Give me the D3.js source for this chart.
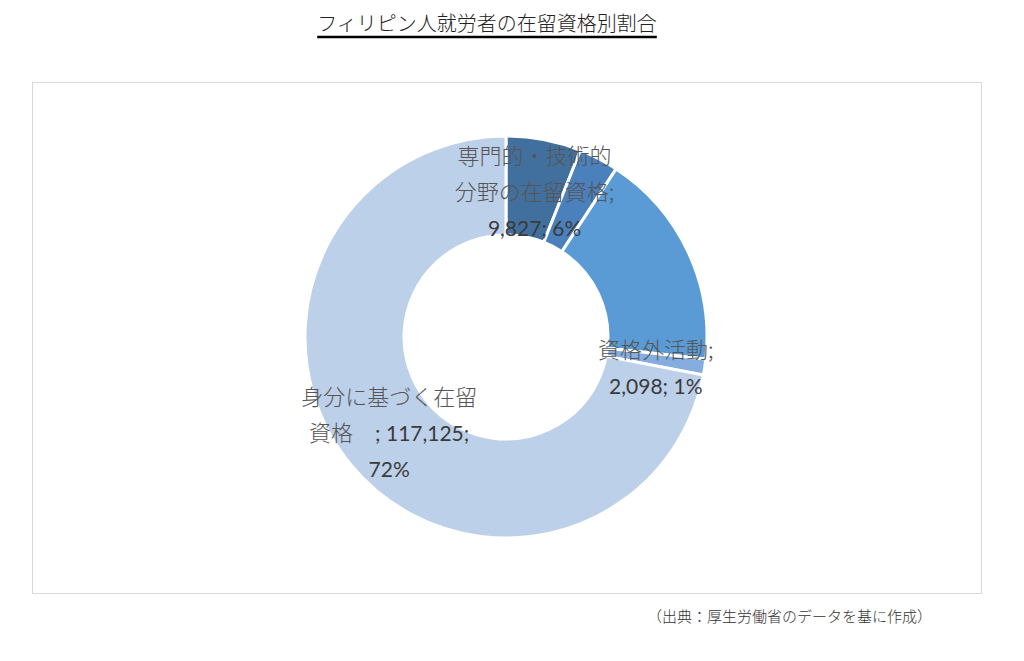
<!DOCTYPE html>
<html>
<head>
    <meta charset="utf-8">
    <title>フィリピン人就労者の在留資格別割合</title>
    <script src="https://d3js.org/d3.v7.min.js"></script>
    <style>
        body { margin: 0; background: #fff; }
        svg { display: block; }
    </style>
</head>
<body>
<div id="chart"></div>
<script type="text/javascript">
    // data (two middle slices have no labels)
    const categories = ['専門的・技術的分野の在留資格', '特定活動', '技能実習', '資格外活動', '身分に基づく在留資格'];
    const values = [9827, 5200, 28500, 2098, 117125];
    const percents = ['6%', '3%', '17%', '1%', '72%'];
    const colors = ['#42709e', '#4a80bb', '#5b9bd5', '#86ade0', '#bdd0ea'];
    // label lines: [jp text, number text]
    const labelLines = [
        [['専門的・技術的', ''], ['分野の在留資格;', ''], ['', '9,827; 6%']],
        null,
        null,
        [['資格外活動;', ''], ['', '2,098; 1%']],
        [['身分に基づく在留', ''], ['資格　', '; 117,125;'], ['', '72%']]
    ];

    const width = 1024;
    const height = 661;
    const cx = 506, cy = 337;
    const outerR = 201, innerR = 102;
    const labelShift = [4, 0, 0, 8, 0]; // small nudge of label blocks, px

    const svg = d3.select('#chart').append('svg')
        .attr('width', width).attr('height', height);

    // title
    const title = svg.append('text')
        .attr('x', 487).attr('y', 31)
        .attr('text-anchor', 'middle')
        .style('font-family', '"Noto Sans CJK JP"')
        .style('font-weight', 300)
        .style('font-size', '20px')
        .style('fill', '#222')
        .text('フィリピン人就労者の在留資格別割合');
    const tb = title.node().getBBox();
    svg.append('line')
        .attr('x1', tb.x).attr('x2', tb.x + tb.width)
        .attr('y1', 37).attr('y2', 37)
        .style('stroke', '#000').style('stroke-width', 2.5);

    // chart frame
    svg.append('rect')
        .attr('x', 32.5).attr('y', 82.5)
        .attr('width', 949).attr('height', 511)
        .style('fill', 'none').style('stroke', '#d9d9d9');

    const pie = d3.pie().sort(null).value(d => d);
    const arcs = pie(values);
    const arc = d3.arc().innerRadius(innerR).outerRadius(outerR);

    const g = svg.append('g').attr('transform', `translate(${cx},${cy})`);

    g.selectAll('path')
        .data(arcs)
        .enter()
        .append('path')
        .attr('d', arc)
        .attr('fill', (d, i) => colors[i])
        .style('stroke', '#fff')
        .style('stroke-width', 3);

    // data labels centred on the slice centroid
    const lineH = 36;
    arcs.forEach((d, i) => {
        const lines = labelLines[i];
        if (!lines) return;
        const [lx, ly] = arc.centroid(d);
        const t = g.append('text')
            .attr('text-anchor', 'middle');
        const y0 = ly + labelShift[i] - (lines.length - 1) * lineH / 2;
        lines.forEach((ln, k) => {
            const first = t.append('tspan')
                .attr('x', lx)
                .attr('y', y0 + k * lineH + 8);
            if (ln[0]) {
                first.style('font-family', '"Noto Sans CJK JP"')
                    .style('font-weight', 300)
                    .style('font-size', '22px')
                    .style('fill', '#555')
                    .text(ln[0]);
            }
            const numSpan = ln[0] ? t.append('tspan') : first;
            if (ln[1]) {
                numSpan.style('font-family', 'Lato, "Open Sans", sans-serif')
                    .style('font-size', '21px')
                    .style('fill', '#3a3a3a')
                    .text(ln[1]);
            }
        });
    });

    // source note
    svg.append('text')
        .attr('x', 932).attr('y', 622)
        .attr('text-anchor', 'end')
        .style('font-family', '"Noto Sans CJK JP"')
        .style('font-weight', 300)
        .style('font-size', '15px')
        .style('fill', '#333')
        .text('（出典：厚生労働省のデータを基に作成）');
</script>
</body>
</html>
